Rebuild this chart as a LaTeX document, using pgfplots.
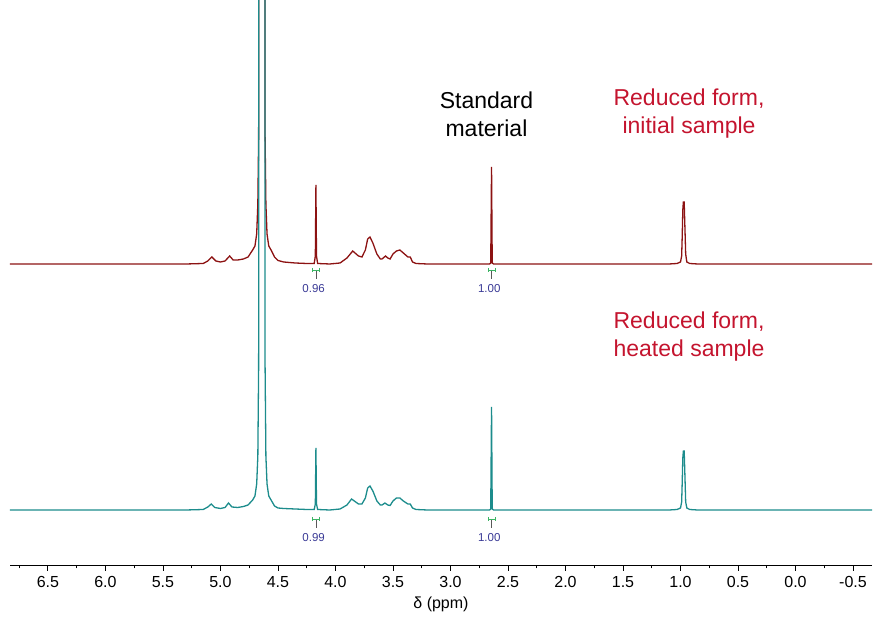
\documentclass[border=0pt]{standalone}
\usepackage{pgfplots}
\pgfplotsset{compat=1.18}
\usepackage{fontspec}
\setmainfont{Liberation Sans}
\definecolor{trRed}{RGB}{140,18,18}
\definecolor{trTeal}{RGB}{28,140,140}
\definecolor{txRed}{RGB}{196,20,46}
\definecolor{numBlue}{RGB}{58,58,150}
\definecolor{brGreen}{RGB}{60,180,100}
\begin{document}
\begin{tikzpicture}
\begin{axis}[
  scale only axis, width=862pt, height=566pt,
  x dir=reverse, xmin=-0.665, xmax=6.83, ymin=0, ymax=566,
  axis x line*=bottom, axis y line=none,
  x axis line style={line width=1pt},
  xtick distance=0.5, minor x tick num=1,
  tick align=outside, major tick length=5pt, minor tick length=2.5pt,
  every tick/.style={black, line width=0.9pt},
  xticklabel style={/pgf/number format/.cd, fixed, fixed zerofill, precision=1, assume math mode=true},
  ticklabel style={font=\fontsize{16}{19}\selectfont, yshift=-2pt},
  xlabel={δ (ppm)}, xlabel style={font=\fontsize{16}{19}\selectfont, yshift=-2pt},
  clip=true,
]
% top trace: reduced form, initial sample
\addplot[trRed, line width=1.3pt] coordinates {
(6.83,302) (5.30,302) (5.15,302.5) (5.11,305) (5.075,309) (5.04,305) (5.00,304) (4.96,305) (4.92,310) (4.89,306) (4.85,306) (4.80,307) (4.76,309) (4.72,316) (4.70,320) (4.685,332) (4.675,362) (4.668,430) (4.665,1000) (4.615,1000) (4.612,430) (4.605,362) (4.595,332) (4.58,320) (4.56,316) (4.53,309) (4.50,305.5) (4.45,304) (4.35,303) (4.25,302.5) (4.185,302.5) (4.175,310) (4.17,381) (4.165,310) (4.155,302.5) (4.05,302) (3.96,303) (3.90,308) (3.85,315) (3.80,310) (3.77,309) (3.74,316) (3.72,327) (3.70,329) (3.675,323) (3.64,312) (3.61,307) (3.595,307) (3.565,310) (3.545,308) (3.525,307) (3.50,312) (3.47,315) (3.44,316) (3.41,313) (3.37,309) (3.35,309) (3.33,304) (3.30,302.5) (3.20,302) (2.66,302) (2.65,303) (2.643,399) (2.637,303) (2.625,302) (1.10,302) (1.03,302.5) (1.00,304) (0.99,310) (0.985,330) (0.98,356) (0.975,364) (0.968,364) (0.962,340) (0.955,312) (0.945,304) (0.92,302.5) (0.85,302) (-0.67,302)
};
% bottom trace: reduced form, heated sample
\addplot[trTeal, line width=1.3pt] coordinates {
(6.83,56) (5.30,56) (5.15,56.5) (5.11,59) (5.08,62) (5.05,58.5) (5.00,57.5) (4.96,58.5) (4.93,63) (4.90,59) (4.85,58.5) (4.80,59.5) (4.76,61) (4.72,66) (4.70,70) (4.685,82) (4.675,110) (4.668,200) (4.665,1000) (4.615,1000) (4.612,200) (4.605,110) (4.595,82) (4.58,70) (4.56,66) (4.53,60) (4.50,58) (4.45,57.5) (4.35,57) (4.25,56.5) (4.185,56.5) (4.175,62) (4.17,118) (4.165,62) (4.155,56.5) (4.05,56) (3.96,57) (3.90,61) (3.86,67) (3.80,62) (3.77,62) (3.74,68) (3.72,78) (3.70,80) (3.675,75) (3.64,65) (3.61,61) (3.595,61) (3.57,63) (3.545,61) (3.525,60.5) (3.50,65) (3.47,68) (3.44,68) (3.41,65) (3.37,62) (3.35,62) (3.33,58) (3.30,56.5) (3.20,56) (2.66,56) (2.65,57) (2.643,159) (2.637,57) (2.625,56) (1.10,56) (1.03,56.5) (1.00,58) (0.99,64) (0.985,84) (0.98,108) (0.975,115) (0.968,115) (0.962,92) (0.955,64) (0.945,58) (0.92,56.5) (0.85,56) (-0.67,56)
};
% integration marks, top trace
\draw[gray!70!black, line width=0.8pt] (axis cs:4.17,296) -- (axis cs:4.17,287);
\draw[brGreen, line width=0.9pt] (axis cs:4.20,298) -- (axis cs:4.20,294) (axis cs:4.20,296) -- (axis cs:4.14,296) (axis cs:4.14,298) -- (axis cs:4.14,294);
\node[numBlue, font=\fontsize{11.5}{13}\selectfont] at (axis cs:4.19,277) {0.96};
\draw[gray!70!black, line width=0.8pt] (axis cs:2.643,296) -- (axis cs:2.643,287);
\draw[brGreen, line width=0.9pt] (axis cs:2.673,298) -- (axis cs:2.673,294) (axis cs:2.673,296) -- (axis cs:2.613,296) (axis cs:2.613,298) -- (axis cs:2.613,294);
\node[numBlue, font=\fontsize{11.5}{13}\selectfont] at (axis cs:2.663,277) {1.00};
% integration marks, bottom trace
\draw[gray!70!black, line width=0.8pt] (axis cs:4.17,47) -- (axis cs:4.17,38);
\draw[brGreen, line width=0.9pt] (axis cs:4.20,49) -- (axis cs:4.20,45) (axis cs:4.20,47) -- (axis cs:4.14,47) (axis cs:4.14,49) -- (axis cs:4.14,45);
\node[numBlue, font=\fontsize{11.5}{13}\selectfont] at (axis cs:4.19,28) {0.99};
\draw[gray!70!black, line width=0.8pt] (axis cs:2.643,47) -- (axis cs:2.643,38);
\draw[brGreen, line width=0.9pt] (axis cs:2.673,49) -- (axis cs:2.673,45) (axis cs:2.673,47) -- (axis cs:2.613,47) (axis cs:2.613,49) -- (axis cs:2.613,45);
\node[numBlue, font=\fontsize{11.5}{13}\selectfont] at (axis cs:2.663,28) {1.00};
% labels
\node[black, align=center, font=\fontsize{23}{28}\selectfont] at (axis cs:2.687,452) {Standard\\material};
\node[txRed, align=center, font=\fontsize{23}{28}\selectfont] at (axis cs:0.926,452) {Reduced form,\\initial sample};
\node[txRed, align=center, font=\fontsize{23}{28}\selectfont] at (axis cs:0.926,229) {Reduced form,\\heated sample};
\end{axis}
\pgfresetboundingbox
\path (current axis.south west) ++(-10pt,-51pt) rectangle ++(875pt,617pt);
\end{tikzpicture}
\end{document}
